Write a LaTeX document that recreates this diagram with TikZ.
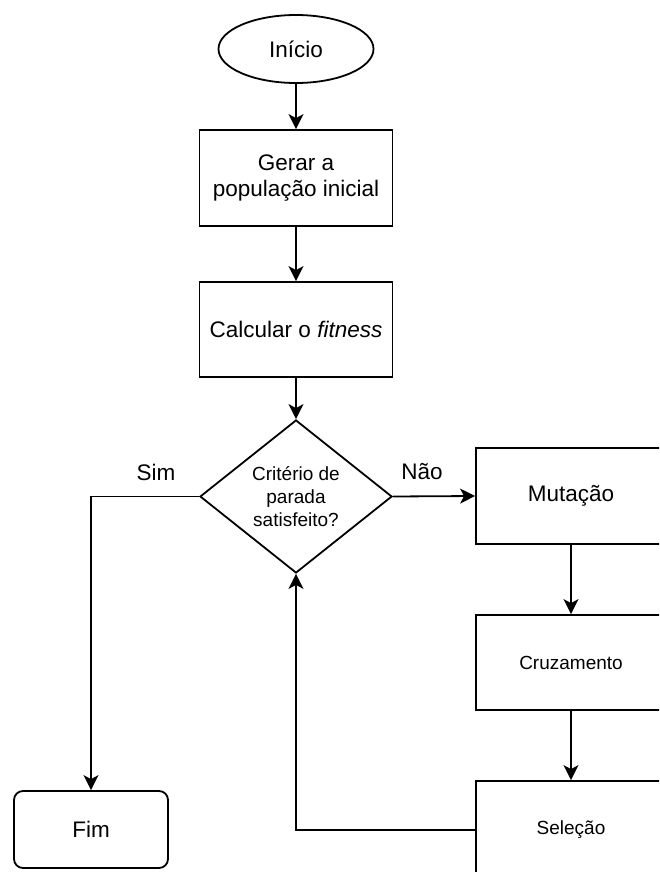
\documentclass[tikz,border=0pt]{standalone}
\usepackage{fontspec}
\setmainfont{Liberation Sans}
\usetikzlibrary{shapes.geometric,arrows.meta}

\begin{document}
\begin{tikzpicture}[x=1pt,y=-1pt,
  line width=1.8pt,
  big/.style={font=\fontsize{22.5}{26.3}\selectfont},
  small/.style={font=\fontsize{19}{22.7}\selectfont},
  stepbox/.style={draw, rectangle, inner sep=0pt, align=center},
  flow/.style={-{Stealth[length=15pt,width=15pt,inset=4pt]}}
]
\useasboundingbox (0,0) rectangle (659,872);
\clip (0,0) rectangle (659,872);

% main column
\node[draw, ellipse, inner sep=0pt, minimum width=155, minimum height=68, big]
  (inicio) at (296,49) {Início};
\node[stepbox, minimum width=193, minimum height=96, big]
  (gerar) at (296,178) {Gerar a\\população inicial};
\node[stepbox, minimum width=193, minimum height=95, big]
  (calc) at (296,329.5) {Calcular o \textit{fitness}};
\node[draw, diamond, aspect=1.25, inner sep=0pt, minimum width=192, minimum height=153, align=center, small]
  (crit) at (296,496.5) {Critério de\\parada\\satisfeito?};

% loop column on the right
\node[stepbox, minimum width=190, minimum height=96, big]
  (mut) at (571,496) {Mutação};
\node[stepbox, minimum width=190, minimum height=95, small]
  (cruz) at (571,662.5) {Cruzamento};
\node[stepbox, minimum width=190, minimum height=98, small]
  (sel) at (571,830) {Seleção};

% end
\node[draw, rectangle, rounded corners=9pt, inner sep=0pt, minimum width=154, minimum height=77, big]
  (fim) at (91,829.5) {Fim};

% connectors
\draw[flow] (inicio) -- (gerar);
\draw[flow] (gerar) -- (calc);
\draw[flow] (calc) -- (crit);
\draw[flow] (crit.east) -- (mut.west);
\draw[flow] (crit.west) -| (fim.north);
\draw[flow] (mut) -- (cruz);
\draw[flow] (cruz) -- (sel);
\draw[flow] (sel.west) -| (crit.south);

% branch labels
\node[big] (sim) at (156,472) {Sim};
\node[big] (nao) at (422,472) {Não};
\end{tikzpicture}
\end{document}
